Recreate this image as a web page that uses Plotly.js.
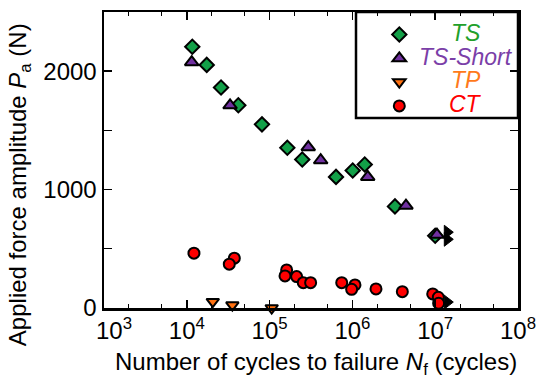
<!DOCTYPE html>
<html>
<head>
<meta charset="utf-8">
<script src="https://cdn.plot.ly/plotly-3.0.1.min.js"></script>
<style>html,body{margin:0;padding:0;background:#fff;}#chart{width:539px;height:378px;}</style>
</head>
<body>
<div id="chart"></div>
<script>
// Data
const seriesNames = ['TS', 'TS-Short', 'TP', 'CT'];
const tsN  = [11650, 17400, 25900, 41900, 80900, 163700, 248000, 634000, 1009000, 1409000, 3268000, 10000000];
const tsP  = [2206, 2053, 1862, 1712, 1551, 1353, 1254, 1107, 1161, 1212, 858, 610];
const tssN = [11460, 33300, 293000, 414000, 1531000, 4436000, 10500000];
const tssP = [2076, 1712, 1358, 1248, 1107, 864, 619];
const tpN  = [20600, 35500, 106000, 1145000, 10700000];
const tpP  = [53, 25, 0, -25, -17];
const ctN  = [12200, 37500, 32600, 160600, 153500, 212000, 255000, 313000, 743000, 1074000, 979000, 1927000, 4009000, 9330000, 10900000, 11000000];
const ctP  = [463, 421, 370, 322, 271, 265, 214, 214, 214, 195, 158, 161, 138, 119, 91, 40];
const runN = [14000000, 14000000, 14000000, 14000000];
const runP = [640, 580, 50, -40];
const xTickVals = [1e3, 1e4, 1e5, 1e6, 1e7, 1e8];
const xTickText = ['&nbsp;&nbsp;&nbsp;10<sup>3</sup>', '10<sup>4</sup>', '10<sup>5</sup>', '10<sup>6</sup>', '10<sup>7</sup>', '10<sup>8</sup>'];
const yTickVals = [0, 1000, 2000];
const yTickText = ['0', '1000', '2000'];

const FONT = 'Liberation Sans, Arial, sans-serif';
const textColors = ['#22a02a', '#7b3fa8', '#ff7a1a', '#ff0000'];
const line = {color: 'black', width: 2};
const traces = [
  {x: tsN, y: tsP, name: '&nbsp;', mode: 'markers', type: 'scatter', cliponaxis: false,
   marker: {symbol: 'diamond', size: 11, color: '#12a048', line: line}},
  {x: tssN, y: tssP, name: '&nbsp;', mode: 'markers', type: 'scatter', cliponaxis: false,
   marker: {symbol: 'triangle-up', size: 12, color: '#7030a0', line: line}},
  {x: tpN, y: tpP, name: '&nbsp;', mode: 'markers', type: 'scatter', cliponaxis: false,
   marker: {symbol: 'triangle-down', size: 11, color: '#ff7010', line: line}},
  {x: ctN, y: ctP, name: '&nbsp;', mode: 'markers', type: 'scatter', cliponaxis: false,
   marker: {symbol: 'circle', size: 11, color: '#ff0000', line: line}},
  {x: runN, y: runP, name: 'runout', showlegend: false, mode: 'markers', type: 'scatter', cliponaxis: false,
   marker: {symbol: 'triangle-right', size: 12, color: 'black', line: {color: 'black', width: 1}}}
];
// legend labels (centered, coloured, italic) as annotations
const legRowsY = [0.929, 0.848, 0.770, 0.689];
const legAnn = seriesNames.map((s, i) => ({
  text: '<i>' + s + '</i>', xref: 'paper', yref: 'paper', x: 0.874, y: legRowsY[i],
  xanchor: 'center', yanchor: 'middle', showarrow: false,
  font: {family: FONT, size: 23, color: textColors[i]}
}));
const layout = {
  width: 539, height: 378,
  margin: {l: 104, r: 21, t: 12, b: 70},
  paper_bgcolor: 'white', plot_bgcolor: 'white',
  font: {family: FONT, size: 24, color: 'black'},
  showlegend: true,
  legend: {x: 0.665, xanchor: 'left', y: 0.981, yanchor: 'top', bgcolor: 'rgba(0,0,0,0)',
           borderwidth: 0, font: {family: FONT, size: 16}, itemwidth: 30},
  shapes: [
    {type: 'rect', xref: 'paper', yref: 'paper', x0: 0.6087, x1: 1, y0: 0.642, y1: 1,
     line: {color: 'black', width: 2.5}, fillcolor: 'white', layer: 'below'}
  ],
  xaxis: {type: 'log', range: [3, 8], tickvals: xTickVals, ticktext: xTickText,
          ticks: 'inside', ticklen: 8, tickwidth: 1.5, tickcolor: 'black',
          showline: true, linecolor: 'black', linewidth: 2.5, mirror: 'allticks',
          showgrid: false, zeroline: false,
          minor: {ticks: 'inside', ticklen: 4, tickwidth: 1, tickcolor: 'black', showgrid: false},
          tickfont: {family: FONT, size: 24}},
  yaxis: {range: [0, 2500], tickvals: yTickVals, ticktext: yTickText,
          ticks: 'inside', ticklen: 8, tickwidth: 1.5, tickcolor: 'black',
          showline: true, linecolor: 'black', linewidth: 2.5, mirror: 'allticks',
          showgrid: false, zeroline: false,
          minor: {tickvals: [500, 1500], ticks: 'inside', ticklen: 8, tickwidth: 1, tickcolor: 'black', showgrid: false},
          tickfont: {family: FONT, size: 24}},
  annotations: [
    {text: 'Number of cycles to failure <i>N</i><sub>f</sub> (cycles)', xref: 'paper', yref: 'paper',
     x: 0.512, y: -0.188, xanchor: 'center', yanchor: 'middle', showarrow: false,
     font: {family: FONT, size: 24, color: 'black'}},
    {text: 'Applied force amplitude <i>P</i><sub>a</sub> (N)', xref: 'paper', yref: 'paper',
     x: -0.205, y: 0.4155, xanchor: 'center', yanchor: 'middle', textangle: -90, showarrow: false,
     font: {family: FONT, size: 24, color: 'black'}}
  ].concat(legAnn)
};
Plotly.newPlot('chart', traces, layout, {displayModeBar: false, staticPlot: true});
</script>
</body>
</html>
